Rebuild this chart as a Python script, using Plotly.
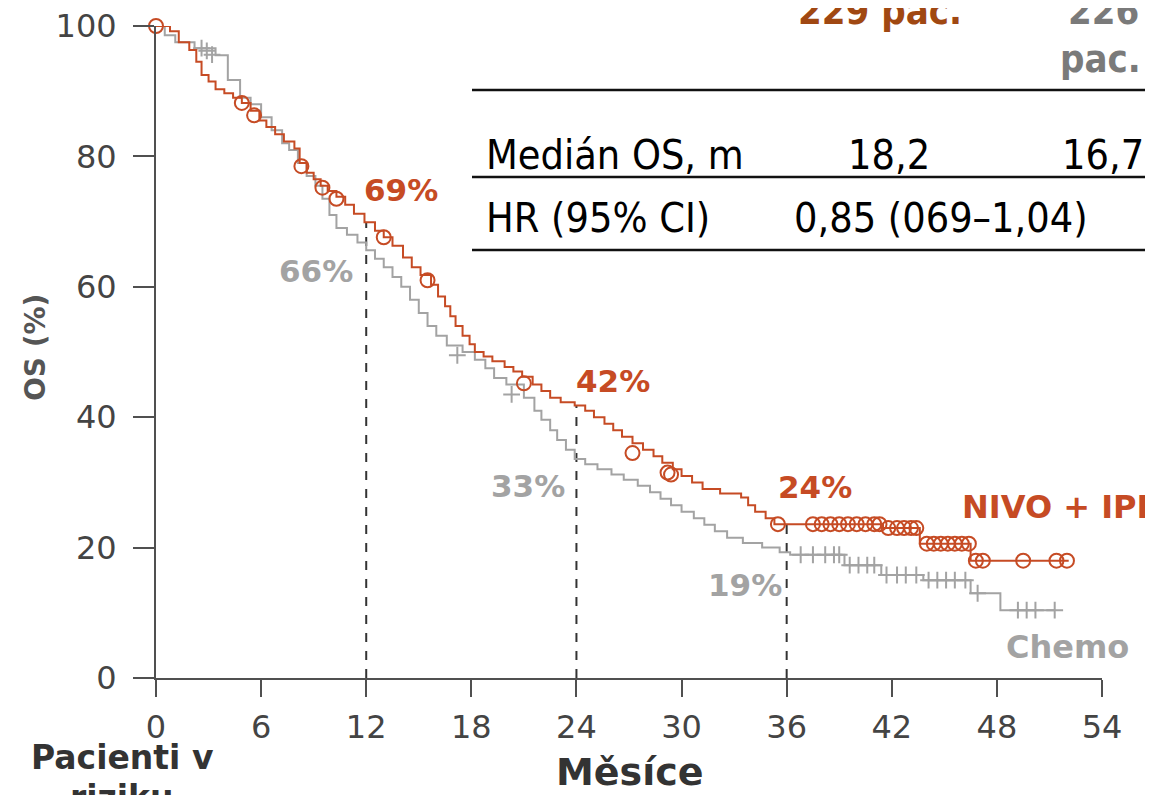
import plotly.graph_objects as go

# ---------------- data ----------------
nivo_t = [0, 0.8, 1.3, 1.9, 2.3, 2.6, 3.0, 3.4, 3.9, 4.4, 4.9, 5.4, 5.9, 6.3, 6.8, 7.3, 7.9, 8.2, 8.6, 9.0,
          9.4, 9.8, 10.3, 10.8, 11.3, 11.9, 12.5, 13.0, 13.5, 14.1, 14.6, 15.1, 15.7, 16.1, 16.5, 16.8, 17.1,
          17.5, 17.9, 18.2, 18.7, 19.2, 19.9, 20.4, 20.9, 21.5, 22.0, 22.5, 23.1, 23.9, 24.5, 25.0, 25.6, 26.1,
          26.6, 27.2, 27.8, 28.4, 28.9, 29.5, 30.0, 30.6, 31.2, 32.2, 33.4, 33.8, 34.2, 34.8, 35.3, 41.5, 43.6,
          46.5, 52.1]
nivo_s = [100, 99.2, 97.5, 96.3, 94.5, 92.5, 91.5, 90.3, 89.7, 89.0, 88.2, 87.0, 85.5, 84.5, 83.4, 82.3, 81.2,
          79.0, 77.5, 76.5, 75.5, 74.7, 73.8, 72.6, 71.2, 69.9, 68.6, 67.6, 66.3, 64.5, 63.0, 61.8, 60.3, 58.5,
          57.0, 55.5, 54.0, 52.5, 51.2, 50.0, 49.3, 48.6, 47.7, 47.0, 46.2, 45.0, 44.0, 43.0, 42.3, 41.8, 41.0,
          40.0, 39.0, 38.0, 37.0, 36.0, 35.0, 34.0, 33.0, 32.0, 31.0, 30.0, 29.0, 28.3, 27.7, 26.5, 25.5, 24.5,
          23.6, 23.0, 20.6, 18.0, 18.0]
nivo_cens_t = [0, 4.9, 5.6, 8.3, 9.5, 10.3, 13.0, 15.5, 21.0, 27.2, 29.2, 29.4, 35.5,
               37.5, 38.0, 38.5, 39.0, 39.5, 40.0, 40.5, 41.0, 41.3,
               41.8, 42.3, 42.7, 43.1, 43.4,
               44.0, 44.4, 44.8, 45.2, 45.6, 46.0, 46.4,
               46.8, 47.2, 49.5, 51.4, 52.0]
nivo_cens_s = [100, 88.2, 86.3, 78.5, 75.2, 73.5, 67.6, 61.0, 45.2, 34.5, 31.5, 31.2, 23.6,
               23.6, 23.6, 23.6, 23.6, 23.6, 23.6, 23.6, 23.6, 23.6,
               23.0, 23.0, 23.0, 23.0, 23.0,
               20.6, 20.6, 20.6, 20.6, 20.6, 20.6, 20.6,
               18.0, 18.0, 18.0, 18.0, 18.0]

chemo_t = [0, 0.5, 1.1, 2.2, 3.4, 4.1, 4.8, 5.4, 6.0, 6.6, 7.2, 7.6, 8.1, 8.6, 9.1, 9.5, 9.9, 10.3, 10.9, 11.5,
           12.0, 12.5, 13.0, 13.5, 14.0, 14.5, 15.0, 15.5, 16.0, 16.6, 17.5, 18.2, 18.8, 19.3, 20.0, 21.0, 21.6,
           22.0, 22.5, 22.9, 23.4, 23.9, 24.5, 25.2, 26.0, 26.7, 27.5, 28.2, 28.8, 29.4, 30.0, 30.7, 31.3, 31.9,
           32.6, 33.5, 34.6, 35.6, 36.2, 39.3, 41.4, 43.8, 46.5, 48.2, 51.3]
chemo_s = [100, 98.6, 97.5, 96.6, 95.5, 91.7, 89.0, 88.0, 86.0, 84.0, 82.0, 81.0, 79.0, 77.0, 75.5, 73.5, 71.0,
           69.0, 68.0, 66.8, 65.6, 64.3, 63.0, 61.5, 60.0, 58.0, 56.0, 54.0, 52.5, 51.0, 50.0, 48.8, 47.5, 46.0,
           45.0, 43.0, 41.0, 39.6, 38.0, 36.5, 35.0, 33.6, 32.8, 32.0, 31.2, 30.4, 29.5, 28.5, 27.5, 26.5, 25.5,
           24.5, 23.5, 22.5, 21.5, 20.7, 20.0, 19.3, 18.9, 17.3, 15.8, 15.0, 13.0, 10.4, 10.4]
chemo_cens_t = [2.6, 2.9, 3.2, 17.2, 20.3,
                36.8, 37.5, 38.2, 38.7, 39.0,
                39.6, 40.1, 40.6, 41.0,
                41.7, 42.3, 42.8, 43.4,
                44.1, 44.6, 45.1, 45.6, 46.2,
                46.9, 49.2, 49.7, 50.2, 51.3]
chemo_cens_s = [96.6, 96.2, 95.6, 49.5, 43.5,
                18.9, 18.9, 18.9, 18.9, 18.9,
                17.3, 17.3, 17.3, 17.3,
                15.8, 15.8, 15.8, 15.8,
                15.0, 15.0, 15.0, 15.0, 15.0,
                13.0, 10.4, 10.4, 10.4, 10.4]

x_ticks = [0, 6, 12, 18, 24, 30, 36, 42, 48, 54]
y_ticks = [0, 20, 40, 60, 80, 100]
landmark_months = [12, 24, 36]
landmark_nivo = [69, 42, 24]
landmark_chemo = [66, 33, 19]

RED = "#C64B24"
GREY = "#A3A3A3"
AX = "#505050"

# page offset of the figure inside the browser window
OX, OY = 8, 8
PAGE_W, PAGE_H = 1153, 795
W, H = PAGE_W - OX, PAGE_H - OY
# target plot-area in page pixels
X0, X1, Y0, Y1 = 156, 1102, 26, 678
L, R, T, B = X0 - OX, PAGE_W - X1, Y0 - OY, PAGE_H - Y1


def px(x):
    return (x - X0) / (X1 - X0)


def py(y):
    return (Y1 - y) / (Y1 - Y0)


fig = go.Figure()
fig.add_trace(go.Scatter(x=chemo_t, y=chemo_s, mode="lines", line=dict(color=GREY, width=2, shape="hv"),
                         hoverinfo="skip", showlegend=False, cliponaxis=False))
fig.add_trace(go.Scatter(x=chemo_cens_t, y=chemo_cens_s, mode="markers",
                         marker=dict(symbol="cross-thin-open", size=12, color=GREY, line=dict(color=GREY, width=2)),
                         showlegend=False, cliponaxis=False))
fig.add_trace(go.Scatter(x=nivo_t, y=nivo_s, mode="lines", line=dict(color=RED, width=2, shape="hv"),
                         hoverinfo="skip", showlegend=False, cliponaxis=False))
fig.add_trace(go.Scatter(x=nivo_cens_t, y=nivo_cens_s, mode="markers",
                         marker=dict(symbol="circle-open", size=14, color=RED, line=dict(color=RED, width=2)),
                         showlegend=False, cliponaxis=False))

# dashed landmark lines
for m in landmark_months:
    idx = max(i for i, t in enumerate(nivo_t) if t <= m)
    fig.add_shape(type="line", xref="x", yref="y", x0=m, x1=m, y0=0, y1=nivo_s[idx],
                  line=dict(color="#333333", width=2, dash="dash"), layer="below")

lbl_font = dict(family="DejaVu Sans", size=31)
nivo_pos = [(401, 190), (613, 381), (815, 487)]
chemo_pos = [(316, 271), (528, 486), (745, 585)]
for v, (x, y) in zip(landmark_nivo, nivo_pos):
    fig.add_annotation(x=px(x), y=py(y), xref="paper", yref="paper", text=f"<b>{v}%</b>", showarrow=False,
                       font=dict(lbl_font, color=RED), xanchor="center", yanchor="middle")
for v, (x, y) in zip(landmark_chemo, chemo_pos):
    fig.add_annotation(x=px(x), y=py(y), xref="paper", yref="paper", text=f"<b>{v}%</b>", showarrow=False,
                       font=dict(lbl_font, color=GREY), xanchor="center", yanchor="middle")

fig.add_annotation(x=px(1150), y=py(507), xref="paper", yref="paper", text="<b>NIVO + IPI</b>", showarrow=False,
                   font=dict(family="DejaVu Sans", size=32, color=RED), xanchor="right", yanchor="middle")
fig.add_annotation(x=px(1131), y=py(647), xref="paper", yref="paper", text="<b>Chemo</b>", showarrow=False,
                   font=dict(family="DejaVu Sans", size=32, color=GREY), xanchor="right", yanchor="middle")

# table
tfont = "DejaVu Sans Condensed, Liberation Sans Narrow, DejaVu Sans"
for yline in [90, 177, 250]:
    fig.add_shape(type="line", xref="paper", yref="paper", x0=px(472), x1=px(1160), y0=py(yline), y1=py(yline),
                  line=dict(color="#111111", width=2.5))
fig.add_annotation(x=px(880), y=py(11), xref="paper", yref="paper", text="<b>229 pac.</b>", showarrow=False,
                   font=dict(family=tfont, size=38, color="#A04812"), xanchor="center", yanchor="middle")
fig.add_annotation(x=px(1141), y=py(11), xref="paper", yref="paper", text="<b>226</b>", showarrow=False,
                   font=dict(family=tfont, size=38, color="#7A7A7A"), xanchor="right", yanchor="middle")
fig.add_annotation(x=px(1143), y=py(59), xref="paper", yref="paper", text="<b>pac.</b>", showarrow=False,
                   font=dict(family=tfont, size=38, color="#7A7A7A"), xanchor="right", yanchor="middle")
fig.add_annotation(x=px(484), y=py(155), xref="paper", yref="paper", text="Medián OS, m", showarrow=False,
                   font=dict(family=tfont, size=41, color="#000000"), xanchor="left", yanchor="middle")
fig.add_annotation(x=px(889), y=py(155), xref="paper", yref="paper", text="18,2", showarrow=False,
                   font=dict(family=tfont, size=41, color="#000000"), xanchor="center", yanchor="middle")
fig.add_annotation(x=px(1146), y=py(155), xref="paper", yref="paper", text="16,7", showarrow=False,
                   font=dict(family=tfont, size=41, color="#000000"), xanchor="right", yanchor="middle")
fig.add_annotation(x=px(484), y=py(218), xref="paper", yref="paper", text="HR (95% CI)", showarrow=False,
                   font=dict(family=tfont, size=41, color="#000000"), xanchor="left", yanchor="middle")
fig.add_annotation(x=px(941), y=py(218), xref="paper", yref="paper", text="0,85 (069–1,04)", showarrow=False,
                   font=dict(family=tfont, size=41, color="#000000"), xanchor="center", yanchor="middle")

# axis titles
fig.add_annotation(x=px(35), y=py(348), xref="paper", yref="paper", text="<b>OS (%)</b>", showarrow=False,
                   textangle=-90, font=dict(family="DejaVu Sans", size=28, color="#555555"),
                   xanchor="center", yanchor="middle")
fig.add_annotation(x=px(630), y=py(772), xref="paper", yref="paper", text="<b>Měsíce</b>", showarrow=False,
                   font=dict(family="DejaVu Sans", size=38, color="#333333"), xanchor="center", yanchor="middle")
fig.add_annotation(x=px(122), y=py(757), xref="paper", yref="paper", text="<b>Pacienti v</b>",
                   showarrow=False, font=dict(family="DejaVu Sans", size=33, color="#333333"),
                   xanchor="center", yanchor="middle")
fig.add_annotation(x=px(122), y=py(797), xref="paper", yref="paper", text="<b>riziku</b>",
                   showarrow=False, font=dict(family="DejaVu Sans", size=33, color="#333333"),
                   xanchor="center", yanchor="middle")

fig.update_layout(
    width=W, height=H, margin=dict(l=L, r=R, t=T, b=B, autoexpand=False),
    plot_bgcolor="white", paper_bgcolor="white",
    xaxis=dict(range=[0, 54], tickvals=x_ticks, showgrid=False, zeroline=False, showline=True,
               linecolor=AX, linewidth=2, ticks="outside", ticklen=17, tickwidth=2, tickcolor=AX,
               tickfont=dict(family="DejaVu Sans", size=32, color="#444444"), ticklabelstandoff=3,
               ticklabeloverflow="allow"),
    yaxis=dict(range=[0, 100], tickvals=y_ticks, showgrid=False, zeroline=False, showline=True,
               linecolor=AX, linewidth=2, ticks="outside", ticklen=21, tickwidth=2, tickcolor=AX,
               tickfont=dict(family="DejaVu Sans", size=32, color="#444444"), ticklabelstandoff=10,
               ticklabeloverflow="allow"),
)

fig.write_html("out.html")
